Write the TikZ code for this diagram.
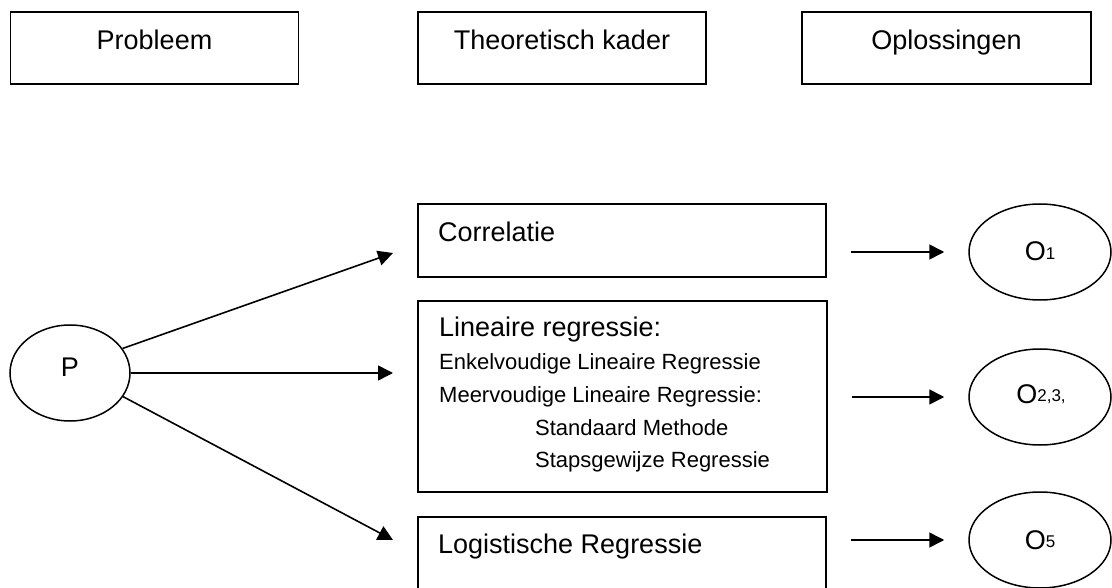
\documentclass[tikz,border=0pt]{standalone}
\usepackage{fontspec}
\setmainfont{Liberation Sans}
\usetikzlibrary{arrows.meta,shapes.geometric}
% smaller, slightly raised index digits after a letter
\newcommand\osub[1]{\raisebox{1.5pt}{\fontsize{17}{20}\selectfont #1}}
\begin{document}
\begin{tikzpicture}[x=1pt,y=-1pt,
  box/.style={draw, line width=1.8pt, rectangle, inner sep=0pt},
  oval/.style={draw, line width=1.5pt, ellipse, inner sep=0pt,
               minimum width=142pt, minimum height=96pt},
  big/.style={font=\fontsize{27}{32}\selectfont, inner sep=0pt},
  small/.style={font=\fontsize{22}{26}\selectfont, inner sep=0pt},
  arr/.style={line width=1.6pt, -{Triangle[length=15pt,width=15pt]}}]
\clip (0,0) rectangle (1112,588);
\fill[white] (0,0) rectangle (1112,588);

% column headings
\node[box, minimum width=288pt, minimum height=72pt] (prob) at (154.5,48) {};
\node[big, anchor=base] (probT) at (154.5,50) {Probleem};
\node[box, minimum width=288pt, minimum height=72pt] (theo) at (562,48) {};
\node[big, anchor=base] (theoT) at (562,50) {Theoretisch kader};
\node[box, minimum width=289pt, minimum height=72pt] (opl) at (946.5,48) {};
\node[big, anchor=base] (oplT) at (946.5,50) {Oplossingen};

% problem
\node[oval, minimum width=120pt] (P) at (70,373) {};
\node[big, anchor=base] (PT) at (70,377) {P};

% theoretical framework
\node[box, minimum width=408pt, minimum height=73pt] (corr) at (622,240.5) {};
\node[big, anchor=base west] (corrT) at (438,242) {Correlatie};

\node[box, minimum width=409pt, minimum height=191pt] (lin) at (622.5,396.5) {};
\node[big, anchor=base west] (linT) at (439,337) {Lineaire regressie:};
\node[small, anchor=base west] (linA) at (439,370) {Enkelvoudige Lineaire Regressie};
\node[small, anchor=base west] (linB) at (439,402) {Meervoudige Lineaire Regressie:};
\node[small, anchor=base west] (linC) at (535,435) {Standaard Methode};
\node[small, anchor=base west] (linD) at (535,467) {Stapsgewijze Regressie};

\node[box, minimum width=408pt, minimum height=78pt] (logi) at (622,556) {};
\node[big, anchor=base west] (logiT) at (438,553) {Logistische Regressie};

% solutions
\node[oval] (O1) at (1040,252) {};
\node[big, anchor=base] (O1T) at (1040,261) {O\osub{1}};
\node[oval] (O2) at (1040,397) {};
\node[big, anchor=base] (O2T) at (1041,403) {O\osub{2,3,}};
\node[oval] (O5) at (1040,540) {};
\node[big, anchor=base] (O5T) at (1040,549) {O\osub{5}};

% arrow ends in front of the method boxes
\coordinate (tA) at (393,253);
\coordinate (tB) at (393,373);
\coordinate (tC) at (393,540);

\draw[arr] (P.25) -- (tA);
\draw[arr] (P.east) -- (tB);
\draw[arr] (P.-24) -- (tC);

\draw[arr, shorten <=24pt, shorten >=24pt] (corr.east |- O1.west) -- (O1.west);
\draw[arr, shorten <=24pt, shorten >=24pt] (lin.east |- O2.west) -- (O2.west);
\draw[arr, shorten <=24pt, shorten >=24pt] (logi.east |- O5.west) -- (O5.west);
\end{tikzpicture}
\end{document}
